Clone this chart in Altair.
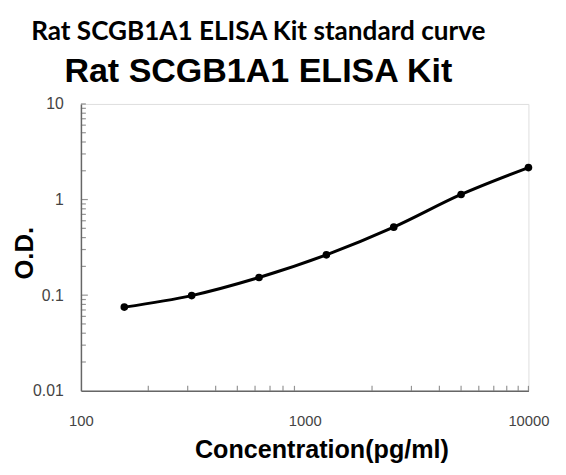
import altair as alt
import pandas as pd

conc = [156.25, 312.5, 625, 1250, 2500, 5000, 10000]
od = [0.075, 0.099, 0.153, 0.264, 0.514, 1.13, 2.16]

x_major = [100, 1000, 10000]
x_minor = [m * 10 ** e for e in (2, 3) for m in range(2, 10)] + [10000]
y_major = [0.01, 0.1, 1, 10]
y_minor = [m * 10 ** e for e in (-2, -1, 0) for m in range(2, 10)] + [10]

df = pd.DataFrame({"conc": conc, "od": od})
dfx = pd.DataFrame({"v": x_minor})
dfy_minor = pd.DataFrame({"v": [v for v in y_minor if v not in (1, 0.1, 10)] + [10]})
dfy_major = pd.DataFrame({"v": [0.1, 1]})

W, H = 454, 291
xscale = alt.Scale(type="log", domain=[100, 10000], nice=False)
yscale = alt.Scale(type="log", domain=[0.01, 10], nice=False)

xaxis = alt.Axis(
    values=x_major, format="d", tickSize=0, grid=False,
    domainColor="#666", domainWidth=1.5,
    labelFont="Liberation Sans", labelFontSize=15, labelColor="#444",
    labelPadding=23, labelFlush=False,
    title="Concentration(pg/ml)", titleFont="Liberation Sans", titleFontSize=25.5,
    titleFontWeight="bold", titleColor="#000", titleBaseline="alphabetic",
    titleX=244, titleY=68, titleAlign="center",
)
yaxis = alt.Axis(
    values=y_major, tickSize=0, grid=False,
    labelExpr="datum.value >= 1 ? format(datum.value, 'd') : format(datum.value, '.2~f')",
    domainColor="#666", domainWidth=1.5,
    labelFont="Liberation Sans", labelFontSize=16, labelColor="#444",
    labelPadding=18, labelFlush=False,
    title="O.D.", titleFont="Liberation Sans", titleFontSize=26,
    titleFontWeight="bold", titleColor="#000", titleBaseline="alphabetic",
    titleAngle=270, titleX=-49, titleY=151, titleAlign="center",
)

line = alt.Chart(df).mark_line(color="black", strokeWidth=3, interpolate="monotone").encode(
    x=alt.X("conc:Q", scale=xscale, axis=xaxis),
    y=alt.Y("od:Q", scale=yscale, axis=yaxis),
)
pts = alt.Chart(df).mark_point(filled=True, color="black", size=60, opacity=1).encode(
    x=alt.X("conc:Q", scale=xscale),
    y=alt.Y("od:Q", scale=yscale),
)
xt = alt.Chart(dfx).mark_tick(color="#666", thickness=1.2, size=5, orient="vertical").encode(
    x=alt.X("v:Q", scale=xscale),
    y=alt.value(H - 2.5),
)
yt = alt.Chart(dfy_minor).mark_tick(color="#666", thickness=1.2, size=5, orient="horizontal").encode(
    y=alt.Y("v:Q", scale=yscale),
    x=alt.value(2.5),
)
ytm = alt.Chart(dfy_major).mark_tick(color="#666", thickness=1.2, size=7, orient="horizontal").encode(
    y=alt.Y("v:Q", scale=yscale),
    x=alt.value(3.5),
)

chart = alt.layer(xt, yt, ytm, line, pts).properties(
    width=W, height=H,
    autosize=alt.AutoSizeParams(type="none"),
    padding={"left": 74, "top": 94, "right": 30, "bottom": 74},
    title=alt.TitleParams(
        text="Rat SCGB1A1 ELISA Kit standard curve",
        subtitle="Rat SCGB1A1 ELISA Kit",
        font="Lato", fontSize=26.5, fontWeight="bold", color="#000",
        subtitleFont="Liberation Sans", subtitleFontSize=34.5, subtitleFontWeight="bold",
        subtitleColor="#000", subtitlePadding=10,
        anchor="middle", dx=-47, offset=8,
    ),
).configure_view(stroke=None).configure(background="white")

chart.save("out.html", embed_options={"renderer": "svg", "actions": False})
